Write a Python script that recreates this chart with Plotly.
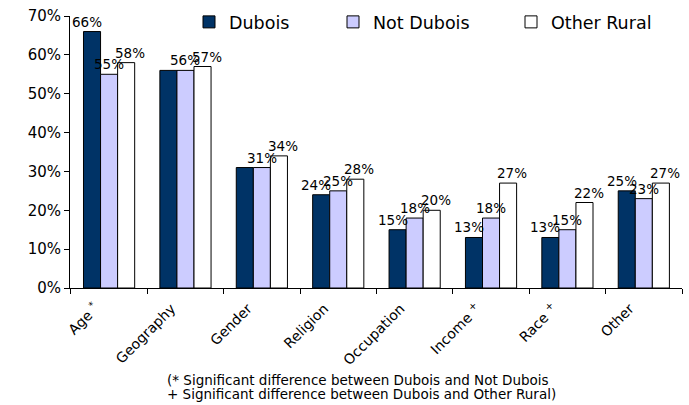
import plotly.graph_objects as go

# Share of respondents citing each factor, by group (percent)
categories = ["Age", "Geography", "Gender", "Religion", "Occupation", "Income", "Race", "Other"]
tick_labels = ["Age <sup>*</sup>", "Geography", "Gender", "Religion", "Occupation",
               "Income <sup>+</sup>", "Race <sup>+</sup>", "Other"]
dubois = [66, 56, 31, 24, 15, 13, 13, 25]
not_dubois = [55, 56, 31, 25, 18, 18, 15, 23]
other_rural = [58, 57, 34, 28, 20, 27, 22, 27]
y_tick_values = [0, 10, 20, 30, 40, 50, 60, 70]
y_tick_text = [f"{v}%" for v in y_tick_values]
footnotes = [
    "(* Significant difference between Dubois and Not Dubois",
    "+ Significant difference between Dubois and Other Rural)",
]

FONT = "DejaVu Sans, Liberation Sans, Arial, sans-serif"
W, H = 689, 405
ML, MR, MT, MB = 70, 7, 16, 117
BARGAP = 0.33
PLOT_W, PLOT_H = W - ML - MR, H - MT - MB


def px_x(x):
    """pixel column -> paper x"""
    return (x - ML) / PLOT_W


def px_y(y):
    """pixel row -> paper y"""
    return (H - MB - y) / PLOT_H


# pixel geometry of the grouped bars, used to place value labels over each bar
cat_px = PLOT_W / len(categories)
bar_px = cat_px * (1 - BARGAP) / 3

series = [
    # name, values, fill, legend id, label x-nudge (px), categories without a label
    ("Dubois", dubois, "#003366", "legend", -5, {1, 2}),
    ("Not Dubois", not_dubois, "#CCCCFF", "legend2", 0, set()),
    ("Other Rural", other_rural, "#FFFFFF", "legend3", 4, set()),
]

fig = go.Figure()
annotations = []
for k, (name, vals, color, leg, nudge, skip) in enumerate(series):
    fig.add_trace(go.Bar(
        name=name, x=categories, y=vals,
        marker=dict(color=color, line=dict(color="#000000", width=1)),
        legend=leg, showlegend=True,
    ))
    offset = (k - 1) * bar_px + nudge
    for i, (c, v) in enumerate(zip(categories, vals)):
        if i in skip:
            continue
        annotations.append(dict(
            x=c, y=v, xref="x", yref="y", text=f"{v}%", showarrow=False,
            xanchor="center", yanchor="bottom", xshift=offset, yshift=0,
            font=dict(family=FONT, size=13.5, color="#000000"),
        ))

# two-line footnote below the category labels
for line, row in zip(footnotes, (380, 394)):
    annotations.append(dict(
        xref="paper", yref="paper", x=px_x(165), y=px_y(row),
        xanchor="left", yanchor="middle", align="left", showarrow=False,
        text=line, font=dict(family=FONT, size=13.5, color="#000000"),
    ))

legend_common = dict(
    orientation="h", xref="paper", yref="paper",
    xanchor="left", yanchor="middle", y=px_y(22),
    font=dict(family=FONT, size=17.5, color="#000000"),
    bgcolor="rgba(0,0,0,0)", borderwidth=0,
)

fig.update_layout(
    width=W, height=H,
    margin=dict(l=ML, r=MR, t=MT, b=MB, autoexpand=False),
    plot_bgcolor="#FFFFFF", paper_bgcolor="#FFFFFF",
    barmode="group", bargap=BARGAP, bargroupgap=0,
    font=dict(family=FONT, color="#000000"),
    showlegend=True,
    legend=dict(legend_common, x=px_x(189)),
    legend2=dict(legend_common, x=px_x(333)),
    legend3=dict(legend_common, x=px_x(511)),
    xaxis=dict(
        tickvals=categories, ticktext=tick_labels, tickangle=-45,
        tickson="boundaries", ticks="outside", ticklen=5, tickcolor="#000000",
        ticklabelshift=-14, ticklabelstandoff=6,
        showline=True, linecolor="#000000", linewidth=1,
        tickfont=dict(family=FONT, size=14, color="#000000"),
        showgrid=False, zeroline=False,
    ),
    yaxis=dict(
        range=[0, 70], tickvals=y_tick_values, ticktext=y_tick_text,
        ticks="outside", ticklen=5, tickcolor="#000000",
        showline=True, linecolor="#000000", linewidth=1,
        tickfont=dict(family=FONT, size=15, color="#000000"),
        showgrid=False, zeroline=False,
    ),
    annotations=annotations,
)

fig.write_html("out.html")
